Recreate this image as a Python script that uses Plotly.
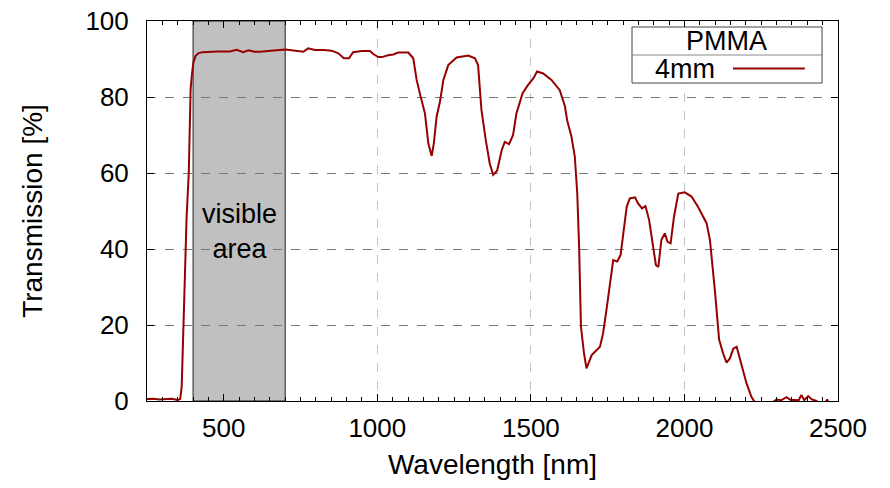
import plotly.graph_objects as go

# ---- data ----
wavelength_nm = [250, 270, 290, 310, 330, 350, 358, 363, 368, 375, 379, 386, 390, 392, 397, 401,
                 408, 417, 430, 444, 460, 480, 500, 520, 542, 563, 580, 600, 618, 640, 672, 701,
                 730, 759, 775, 797, 825, 851, 873, 891, 908, 921, 949, 976, 987, 1003, 1015,
                 1035, 1052, 1068, 1085, 1101, 1117, 1128, 1141, 1155, 1166, 1177, 1184, 1193,
                 1204, 1215, 1231, 1258, 1296, 1318, 1328, 1339, 1353, 1366, 1377, 1390, 1405,
                 1415, 1429, 1442, 1453, 1473, 1491, 1508, 1520, 1540, 1567, 1594, 1611, 1618,
                 1632, 1643, 1651, 1657, 1663, 1673, 1681, 1698, 1725, 1735, 1746, 1768, 1781,
                 1792, 1812, 1822, 1839, 1849, 1862, 1873, 1885, 1898, 1907, 1915, 1925, 1936,
                 1945, 1955, 1966, 1980, 2001, 2023, 2044, 2072, 2083, 2099, 2113, 2126, 2137,
                 2148, 2159, 2170, 2186, 2202, 2218, 2229, 2245, 2265, 2289, 2300, 2315, 2332,
                 2345, 2360, 2372, 2381, 2390, 2403, 2415, 2430, 2445, 2458, 2465, 2470]
transmission_pct = [0.5, 0.6, 0.4, 0.5, 0.6, 0.3, 0.5, 3.8, 18, 35, 48.5, 60, 79, 82, 86.5, 89,
                    90.8, 91.5, 91.8, 91.9, 91.9, 92.0, 92.0, 92.0, 92.4, 91.8, 92.3, 91.9, 91.9,
                    92.0, 92.3, 92.5, 92.2, 91.9, 92.8, 92.4, 92.4, 92.2, 91.5, 90.2, 90.2, 91.8,
                    92.1, 92.1, 91.3, 90.5, 90.5, 91.0, 91.2, 91.7, 91.7, 91.7, 90.2, 84.5, 80.1,
                    75.7, 67.8, 64.5, 67.8, 74.8, 78.8, 84.5, 88.4, 90.4, 90.9, 90.2, 88.4, 76.6,
                    68.7, 62.5, 59.5, 60.6, 66.0, 68.2, 67.6, 70.0, 75.7, 81.0, 83.2, 84.9, 86.7,
                    86.2, 84.5, 81.8, 77.5, 73.9, 69.6, 64.3, 54.6, 40.6, 19.6, 12.5, 8.6, 12.1,
                    14.3, 17.8, 23.9, 37.1, 36.7, 38.4, 51.1, 53.3, 53.6, 52.0, 50.7, 51.3, 47.6,
                    40.6, 35.8, 35.3, 42.4, 44.1, 41.9, 41.5, 48.5, 54.6, 54.9, 53.8, 51.1, 46.8,
                    42.4, 29.2, 16.1, 12.5, 10.1, 11.2, 13.8, 14.3, 9.5, 4.7, 1.1, -0.3, -1.5,
                    -1.5, -0.2, 0.4, 0.2, 1.0, 0.3, 0.3, 0.2, 1.6, 0.2, 1.3, 0.4, 0.0, -1.0, -0.5,
                    0.4, -0.5]

visible_range = [400, 700]
x_ticks = [500, 1000, 1500, 2000, 2500]
y_ticks = [0, 20, 40, 60, 80, 100]
series_name = "4mm"
legend_title = "PMMA"
x_title = "Wavelength [nm]"
y_title = "Transmission [%]"
band_label = "visible<br>area"

FONT = "Liberation Sans, Arial, sans-serif"
LINE_COLOR = "#960000"

fig = go.Figure()
fig.add_trace(go.Scatter(x=wavelength_nm, y=transmission_pct, mode="lines",
                         line=dict(color=LINE_COLOR, width=2), name=series_name,
                         showlegend=False))

# visible band
fig.add_shape(type="rect", xref="x", yref="y", x0=visible_range[0], x1=visible_range[1],
              y0=0, y1=100, fillcolor="#c0c0c0", line=dict(color="#202020", width=1),
              layer="below")
fig.add_annotation(x=sum(visible_range) / 2, y=44.7, xref="x", yref="y", text=band_label,
                   showarrow=False, xanchor="center", yanchor="middle",
                   font=dict(family=FONT, size=27, color="black"))

# custom legend box
fig.add_shape(type="rect", xref="paper", yref="paper", x0=0.7019, x1=0.9769, y0=0.8368,
              y1=0.9842, fillcolor="white", line=dict(color="#444444", width=1), layer="above")
fig.add_shape(type="line", xref="paper", yref="paper", x0=0.7019, x1=0.9769, y0=0.9105,
              y1=0.9105, line=dict(color="#888888", width=1), layer="above")
fig.add_shape(type="line", xref="paper", yref="paper", x0=0.848, x1=0.952, y0=0.875,
              y1=0.875, line=dict(color=LINE_COLOR, width=2), layer="above")
fig.add_annotation(x=0.839, y=0.947, xref="paper", yref="paper", text=legend_title,
                   showarrow=False, xanchor="center", yanchor="middle",
                   font=dict(family=FONT, size=27, color="black"))
fig.add_annotation(x=0.7786, y=0.8737, xref="paper", yref="paper", text=series_name,
                   showarrow=False, xanchor="center", yanchor="middle",
                   font=dict(family=FONT, size=27, color="black"))

fig.update_layout(
    width=890, height=488,
    margin=dict(l=147, r=52, t=21, b=87),
    paper_bgcolor="white", plot_bgcolor="white",
    font=dict(family=FONT, size=26, color="black"),
    showlegend=False,
)
fig.update_xaxes(
    range=[250, 2500], tickvals=x_ticks, ticks="inside", ticklen=7, tickcolor="black",
    showline=True, linecolor="black", linewidth=1, mirror="allticks", automargin=False,
    showgrid=True, gridcolor="#c4c4c4", griddash="dash", gridwidth=1, zeroline=False,
    minor=dict(dtick=50, tick0=0, ticks="inside", ticklen=4, tickcolor="black", showgrid=False),
    title=dict(text=x_title, font=dict(family=FONT, size=28), standoff=12),
    tickfont=dict(family=FONT, size=26), ticklabelstandoff=4,
)
fig.update_yaxes(
    range=[0, 100], tickvals=y_ticks, ticks="inside", ticklen=7, tickcolor="black",
    showline=True, linecolor="black", linewidth=1, mirror="allticks", automargin=False,
    showgrid=True, gridcolor="#777777", griddash="dash", gridwidth=1, zeroline=False,
    title=dict(text=y_title, font=dict(family=FONT, size=28), standoff=34),
    tickfont=dict(family=FONT, size=26), ticklabelstandoff=12,
)

fig.write_html("out.html")
